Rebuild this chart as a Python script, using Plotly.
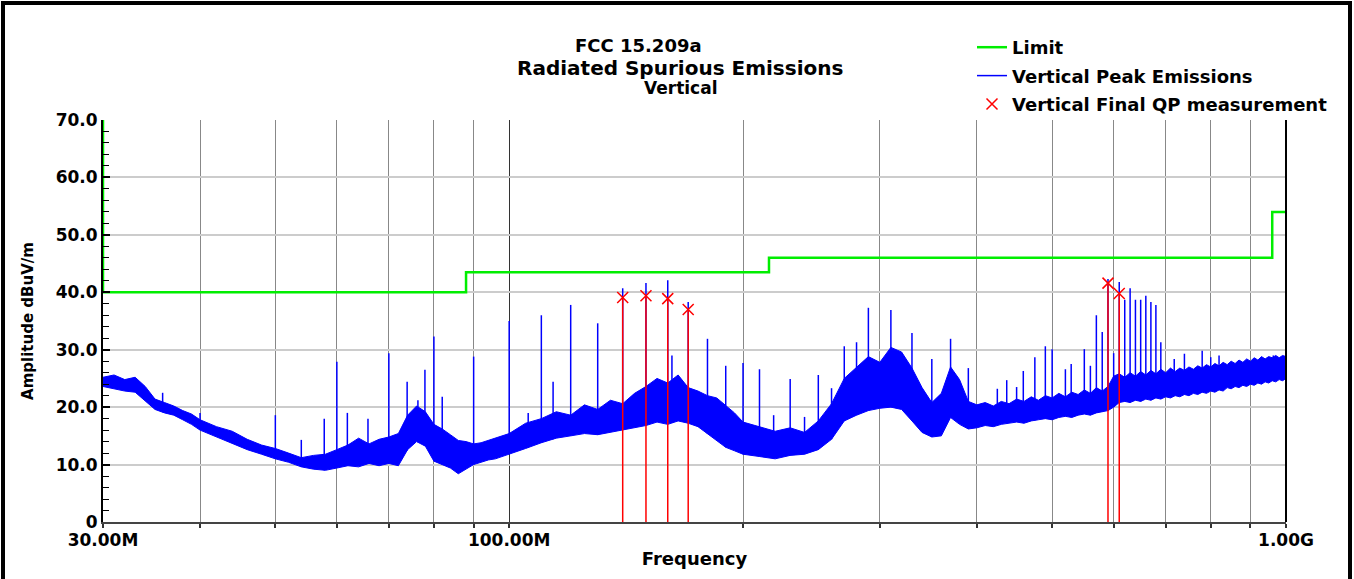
import numpy as np
import plotly.graph_objects as go

# ---------------- data (frequencies in MHz, amplitudes in dBuV/m) ----------------
limit_freq = [30, 30, 88, 88, 216, 216, 960, 960, 1000]
limit_amp = [70, 40, 40, 43.5, 43.5, 46, 46, 54, 54]

# noise floor envelope of the peak sweep (lower and upper edge of the trace)
band_freq = [30, 31, 32, 33, 34, 35, 36, 37, 38, 39, 40,
             42, 44, 46, 48, 50, 52, 54, 56, 58, 60, 62, 64, 66, 68, 70, 72, 74, 76, 78, 80,
             82, 84, 86, 88, 90, 92, 94, 96, 98, 100,
             105, 110, 115, 120, 125, 130, 135, 140, 145, 150, 155, 160, 165, 170, 175, 180,
             185, 190, 195, 200,
             210, 220, 230, 240, 250, 260, 270, 280, 290, 300, 310, 320, 330, 340, 350, 360,
             370, 380, 390, 400, 410, 420, 430, 440, 450, 460, 470, 480, 490, 500, 510, 520,
             530, 540, 550, 560, 570, 580, 590, 600, 610, 620, 630, 640, 650, 660, 670, 680,
             690, 700, 710, 720, 730, 740, 750, 760, 770, 780, 790, 800, 810, 820, 830, 840,
             850, 860, 870, 880, 890, 900, 910, 920, 930, 940, 950, 960, 970, 980, 990, 1000]
band_low = [23.6, 23.2, 22.8, 22.6, 21.0, 19.6, 19.0, 18.6, 17.8, 17.0, 16.0,
            14.8, 13.6, 12.6, 11.8, 11.0, 10.4, 9.6, 9.2, 9.0, 9.4, 9.8, 9.6, 10.2, 9.8, 10.2,
            9.8, 12.6, 14.0, 13.2, 10.6, 10.0, 9.4, 8.4, 9.2, 10.0, 10.4, 10.8, 11.0, 11.4, 11.8,
            12.8, 13.8, 14.6, 15.0, 15.4, 15.2, 15.6, 16.0, 16.4, 16.8, 17.4, 17.0, 17.6, 17.2,
            16.6, 15.4, 14.2, 13.0, 12.4, 11.8,
            11.4, 11.0, 11.6, 11.8, 12.6, 14.4, 17.6, 18.6, 19.4, 19.8, 20.0, 19.6, 17.6, 15.6,
            14.8, 15.0, 18.2, 17.0, 16.2, 16.4, 16.8, 16.6, 17.0, 17.2, 17.4, 17.2, 17.6, 17.8,
            18.0, 17.8, 18.2, 18.4, 18.2, 18.6, 18.8, 18.6, 19.0, 19.2, 19.4, 20.0, 20.8, 21.0,
            20.8, 21.2, 21.0, 21.4, 21.2, 21.6, 21.4, 21.8, 21.6, 22.0, 21.8, 22.2, 22.0, 22.4,
            22.2, 22.6, 22.4, 22.8, 22.6, 23.0, 22.8, 23.4, 23.2, 23.6, 23.4, 23.8, 23.6, 24.0,
            23.8, 24.2, 24.0, 24.4, 24.2, 24.6, 24.4, 24.8, 24.6, 25.0]
band_high = [25.2, 25.6, 24.8, 25.2, 23.6, 21.4, 20.8, 20.2, 19.4, 18.8, 17.8,
             16.6, 15.8, 14.4, 13.4, 12.8, 12.0, 11.2, 11.6, 11.8, 12.6, 13.4, 14.6, 13.6, 14.4,
             14.8, 15.4, 18.6, 20.2, 19.2, 17.0, 16.2, 15.2, 14.2, 14.0, 13.6, 13.8, 14.2, 14.6,
             15.0, 15.4,
             17.2, 18.0, 19.2, 18.6, 20.4, 19.6, 21.2, 20.6, 22.4, 23.6, 25.0, 24.2, 25.6, 23.4,
             22.8, 22.0, 21.6, 20.2, 19.0, 17.4,
             16.6, 15.8, 16.4, 15.6, 17.6, 20.6, 25.0, 27.0, 28.8, 27.8, 30.4, 29.6, 26.8, 23.4,
             20.8, 22.4, 27.0, 24.8, 21.0, 20.4, 20.8, 20.2, 21.0, 20.6, 21.4, 21.0, 21.8, 21.2,
             22.0, 21.6, 22.4, 21.8, 22.6, 22.2, 23.0, 22.4, 23.4, 22.8, 23.6, 25.4, 25.8, 25.2,
             26.0, 25.4, 26.2, 25.6, 26.4, 25.8, 26.6, 26.0, 26.8, 26.2, 26.8, 26.4, 27.0, 26.6,
             27.2, 26.8, 27.4, 27.0, 27.6, 27.2, 27.8, 27.4, 28.0, 27.6, 28.2, 27.8, 28.4, 28.0,
             28.6, 28.2, 28.8, 28.4, 28.8, 28.6, 29.0, 28.6, 29.0, 28.8]

# discrete peaks of the peak sweep
spike_freq = [35.8, 40, 50, 54, 57.8, 60, 61.9, 65.8, 70, 73.9, 76.3, 77.9, 80, 82, 90, 100,
              105.8, 110, 113.9, 120, 130, 140, 150, 160, 162, 170, 180, 190, 200, 210, 219,
              230, 240, 250, 260, 270, 280, 290, 310, 330, 350, 370, 390, 425, 437, 450, 459,
              475, 490, 500, 520, 529, 550, 560, 570, 580, 590, 600, 610, 620, 630, 640, 650,
              660, 670, 680, 690, 718, 740, 780, 800, 820, 963]
spike_amp = [22.5, 19, 18.6, 14.3, 18, 27.9, 19, 18, 29.4, 24.4, 21.2, 26.5, 32.3, 21.8, 28.8, 35,
             19, 36, 24.4, 37.8, 34.6, 40.7, 41.6, 42.1, 29, 38.3, 31.9, 27.2, 27.7, 26.6, 18.6,
             24.9, 18.3, 25.6, 23.3, 30.6, 31.3, 37.3, 36.9, 32.9, 28.4, 31.9, 26.8, 23.2, 24.7, 23.5, 26.3,
             28.7, 30.6, 30.1, 26.6, 27.5, 30.1, 27.2, 36, 33.1, 42.3, 29.4, 41.8, 38.7, 40.7, 38.7, 38.7,
             39.4, 38.3, 37.8, 31.3, 28.4, 29.3, 29.8, 28.7, 29, 29]

qp_freq = [140, 150, 160, 170, 590, 610]
qp_amp = [39.1, 39.4, 38.9, 37.0, 41.6, 39.8]

y_tickvals = [0, 10, 20, 30, 40, 50, 60, 70]
y_ticktext = ["0", "10.0", "20.0", "30.0", "40.0", "50.0", "60.0", "70.0"]
x_tickvals = [30, 100, 1000]
x_ticktext = ["30.00M", "100.00M", "1.00G"]
x_minor_vals = [40, 50, 60, 70, 80, 90, 200, 300, 400, 500, 600, 700, 800, 900]

FONT = "DejaVu Sans"
BLUE = "#0000ff"
GREEN = "#00ee00"
RED = "#ff0000"

# ---------------- build traces ----------------
fig = go.Figure()

fig.add_trace(go.Scatter(x=band_freq, y=band_low, mode="lines",
                         line=dict(color=BLUE, width=1), showlegend=False, hoverinfo="skip"))
fig.add_trace(go.Scatter(x=band_freq, y=band_high, mode="lines", fill="tonexty",
                         fillcolor=BLUE, line=dict(color=BLUE, width=1),
                         showlegend=False, hoverinfo="skip"))

log_band = np.log10(band_freq)
sx, sy = [], []
for f, a in zip(spike_freq, spike_amp):
    base = float(np.interp(np.log10(f), log_band, band_low))
    sx += [f, f, None]
    sy += [base, a, None]
fig.add_trace(go.Scatter(x=sx, y=sy, mode="lines", line=dict(color=BLUE, width=1.5),
                         name="Vertical Peak Emissions", legendgroup="b", legendrank=2))

fig.add_trace(go.Scatter(x=limit_freq, y=limit_amp, mode="lines",
                         line=dict(color=GREEN, width=2.5), name="Limit",
                         legendgroup="a", legendrank=1))

qx, qy = [], []
for f, a in zip(qp_freq, qp_amp):
    qx += [f, f, None]
    qy += [0, a, None]
fig.add_trace(go.Scatter(x=qx, y=qy, mode="lines", line=dict(color=RED, width=1.5),
                         showlegend=False, hoverinfo="skip"))
fig.add_trace(go.Scatter(x=qp_freq, y=qp_amp, mode="markers",
                         marker=dict(symbol="x-thin", size=11, line=dict(color=RED, width=1.5)),
                         name="Vertical Final QP measurement", legendgroup="c", legendrank=3))

# ---------------- layout ----------------
L, R, T, B = 103, 68, 120, 57
W, H = 1354, 579
pw, ph = W - L - R, H - T - B

def px_x(p):
    return (p - L) / pw

def px_y(p):
    return (H - B - p) / ph

fig.update_layout(
    width=W, height=H,
    margin=dict(l=L, r=R, t=T, b=B, pad=0, autoexpand=False),
    paper_bgcolor="white", plot_bgcolor="white",
    font=dict(family=FONT, size=17, color="black", weight="bold"),
    showlegend=True,
    legend=dict(x=px_x(972), y=px_y(29), xanchor="left", yanchor="top",
                font=dict(family=FONT, size=18, weight="bold"),
                bgcolor="rgba(0,0,0,0)", tracegroupgap=2, itemwidth=30),
)

fig.update_xaxes(
    type="log", range=[np.log10(30), 3], automargin=False,
    tickvals=x_tickvals, ticktext=x_ticktext,
    tickfont=dict(family=FONT, size=17, weight="bold"),
    ticks="outside", ticklen=4, tickcolor="#333", tickwidth=1.5,
    ticklabelstandoff=-2,
    showgrid=True, gridcolor="#333", gridwidth=1,
    minor=dict(tickvals=x_minor_vals, ticks="outside", ticklen=4, tickcolor="#333",
               showgrid=True, gridcolor="#888", gridwidth=1),
    showline=True, linecolor="#444", linewidth=2,
    zeroline=False,
    title=dict(text="Frequency", font=dict(family=FONT, size=18, weight="bold"), standoff=3),
)

fig.update_yaxes(
    range=[0, 70], automargin=False,
    tickvals=y_tickvals, ticktext=y_ticktext,
    tickfont=dict(family=FONT, size=17, weight="bold"),
    ticks="inside", ticklen=7, tickcolor="black", tickwidth=1.5,
    showgrid=True, gridcolor="#cccccc", gridwidth=2,
    minor=dict(dtick=2, ticks="inside", ticklen=6, tickcolor="black", tickwidth=1.2, showgrid=False),
    showline=True, linecolor="black", linewidth=2,
    zeroline=False,
    title=dict(text="Amplitude dBuV/m", font=dict(family=FONT, size=15, weight="bold"), standoff=18),
)

# titles
for txt, cx, cy, sz in [("FCC 15.209a", 638, 45, 18),
                        ("Radiated Spurious Emissions", 680, 68, 20),
                        ("Vertical", 680, 88, 17)]:
    fig.add_annotation(text=txt, x=px_x(cx), y=px_y(cy), xref="paper", yref="paper",
                       xanchor="center", yanchor="middle", showarrow=False,
                       font=dict(family=FONT, size=sz, weight="bold"))

# right plot edge and outer frame
fig.add_shape(type="line", xref="paper", yref="paper", x0=1, x1=1, y0=0, y1=1,
              line=dict(color="black", width=2))
fig.add_shape(type="rect", xref="paper", yref="paper",
              x0=px_x(3), x1=px_x(1350), y0=px_y(600), y1=px_y(3),
              line=dict(color="black", width=4), layer="above")

fig.write_html("out.html", config={"displayModeBar": False},
               post_script="document.body.style.margin='0px';")
